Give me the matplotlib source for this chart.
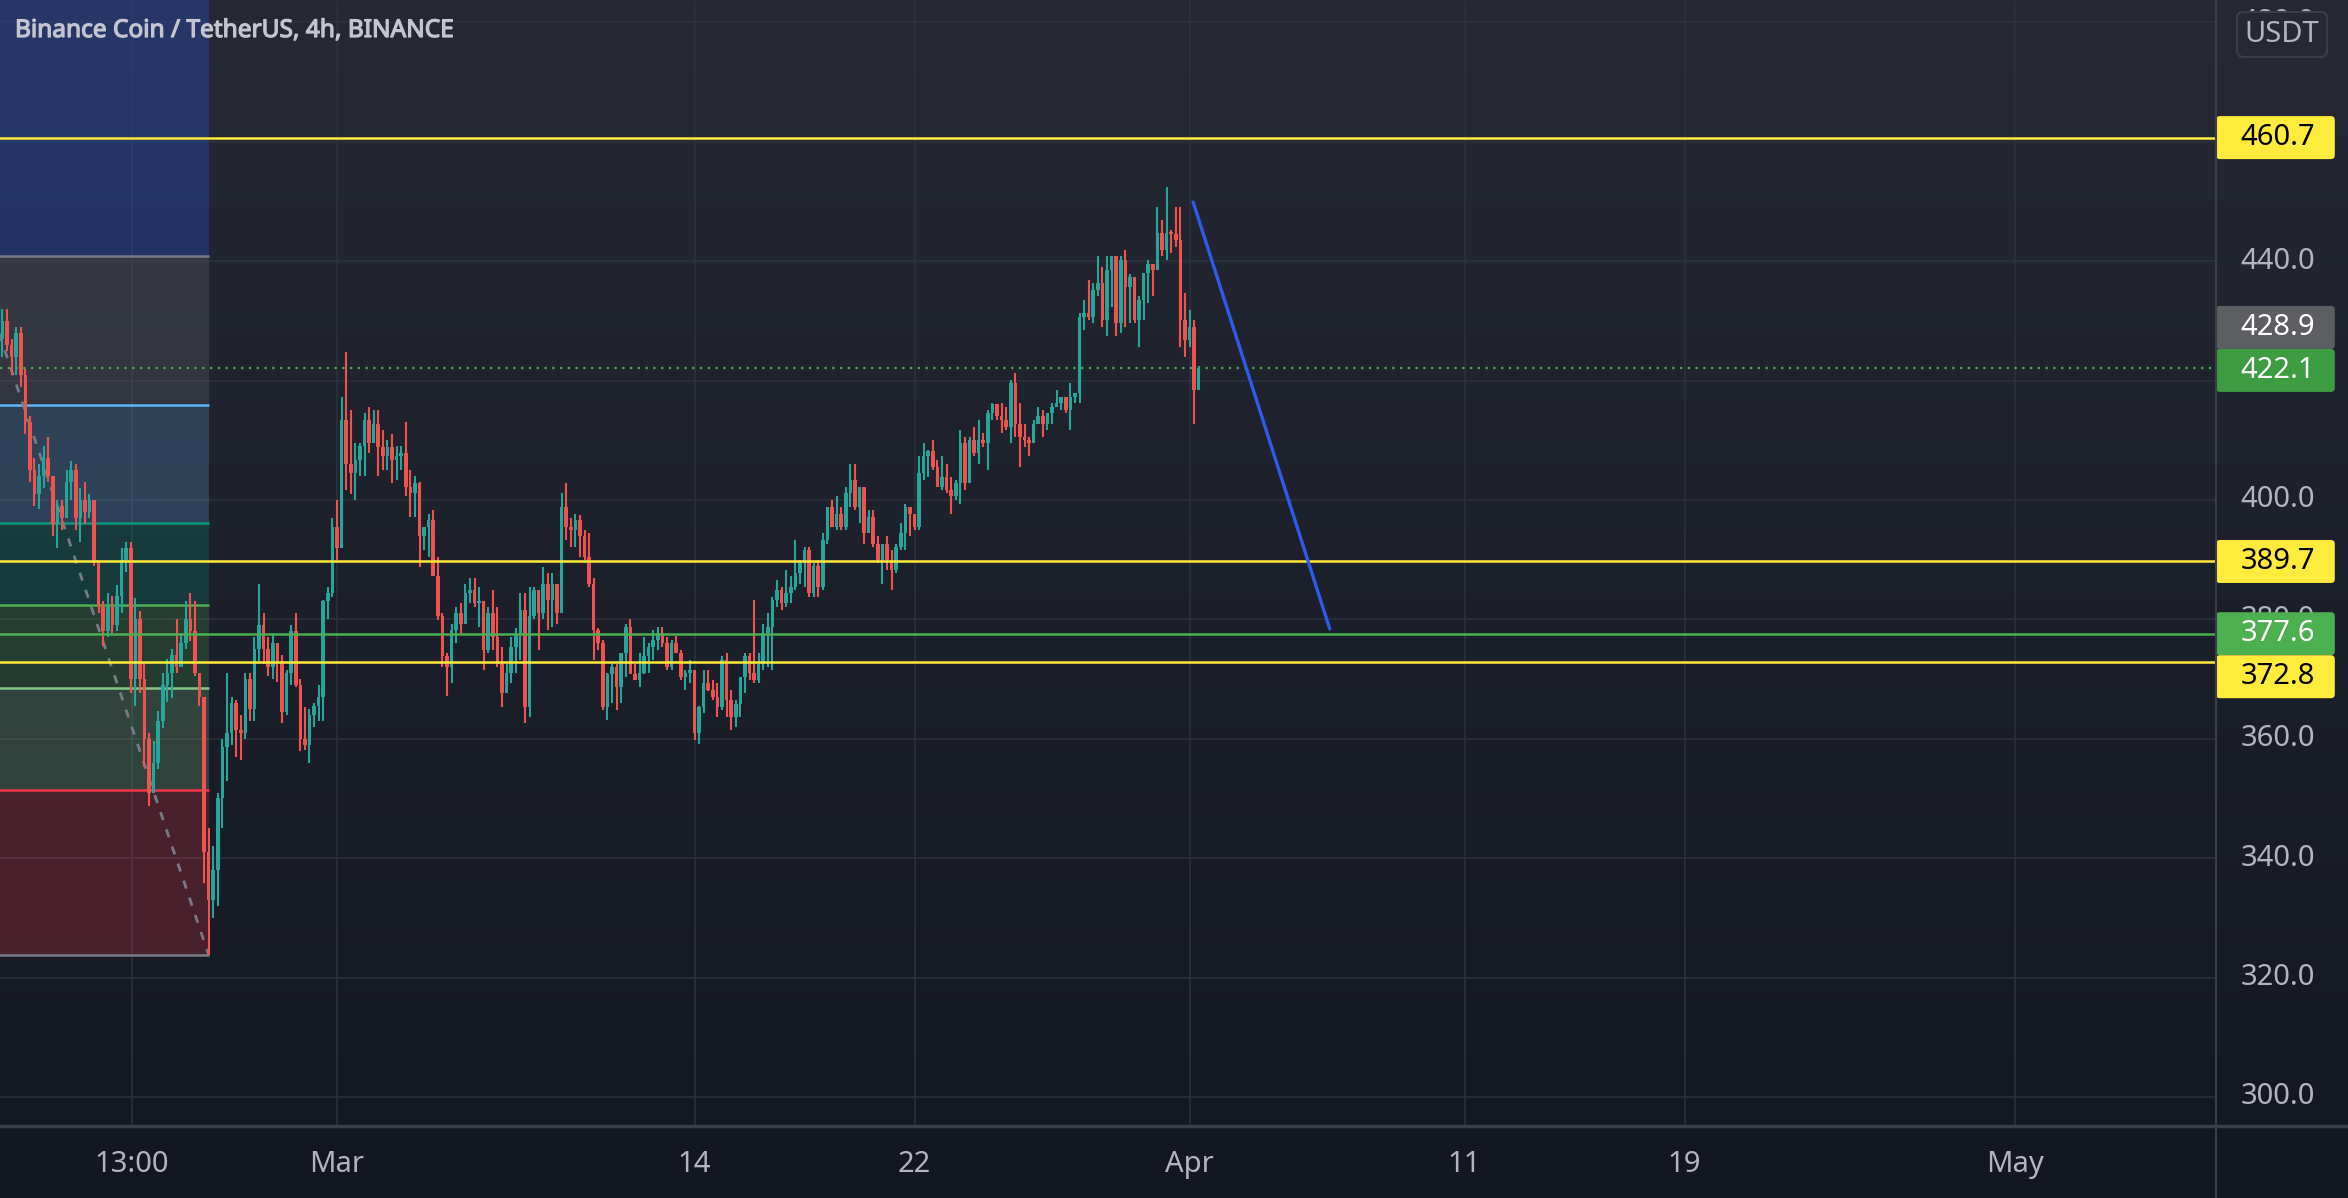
import numpy as np
import pandas as pd
import matplotlib
matplotlib.use("Agg")
import matplotlib.pyplot as plt
import matplotlib.patheffects as pe
from matplotlib.collections import LineCollection
from matplotlib.patches import Rectangle, FancyBboxPatch

# ---------------- data ----------------
first_bar = "2022-02-16 20:00"
n_bars = 262
first_open = 427.0

closes = [
    430, 426, 424, 428, 421, 413, 405, 401, 404, 407,
    404, 396, 399, 397, 403, 405, 397, 400, 398, 400,
    390, 382, 378, 382, 379, 384, 390, 392, 370, 380,
    370, 360, 351, 356, 363, 369, 371, 374, 372, 376,
    380, 378, 371, 367, 341, 333, 338, 350, 358.7, 361,
    366, 361.5, 361, 370, 365, 375, 379, 375, 372, 376,
    373, 364.5, 371, 378, 369, 360, 359, 364, 365.5, 367,
    383, 384.5, 395.5, 392, 413.4, 406, 404.5, 406.7, 409, 413.4,
    409.5, 412.8, 408.9, 407.3, 408.9, 406.7, 407.3, 407.8, 402.2, 401.1,
    402.8, 393.9, 395.5, 396.6, 387.2, 380.5, 373.8, 372.1, 378.2, 381,
    379.3, 384.4, 384.9, 382.7, 383, 374.9, 381, 377.1, 372.6, 367.6,
    371, 375.4, 377.5, 381.6, 365.4, 380.5, 384.9, 381, 386, 383.2,
    386, 381, 398.9, 395.5, 394.9, 396.6, 393.9, 390.5, 386, 378.2,
    376, 365.4, 370.9, 372.1, 368.7, 374.3, 378.8, 370.9, 369.8, 371,
    373.8, 375.4, 376.6, 377.7, 376, 372.1, 376, 374.3, 370.4, 371,
    371.5, 360.9, 365.4, 369.3, 368.2, 367, 365.4, 373.2, 366.5, 363.7,
    365.9, 370.4, 373.8, 371, 369.8, 372.6, 377.7, 378.8, 383.2, 384.9,
    382.7, 384.4, 385.5, 387.7, 389.4, 391.6, 384.4, 389, 385.5, 393.3,
    398.9, 395.5, 397.7, 395.5, 401.1, 403.3, 398.9, 402.2, 394.4, 397.2,
    392.7, 390, 392.7, 390, 388.3, 392.2, 394.4, 398.9, 397.7, 395.5,
    404.5, 407.3, 408.2, 405.6, 402.2, 403.9, 401.7, 400.6, 402.8, 409.5,
    402.8, 410, 407.8, 410, 409.5, 414.5, 416, 414, 413.4, 412.3,
    419.6, 412.8, 410.6, 410, 409.5, 412.8, 414, 412.8, 414.5, 415.6,
    416.2, 417.3, 415, 417.3, 417.9, 430.7, 431.3, 430.7, 435.2, 436.3,
    430.2, 438.5, 440.8, 429.6, 440.2, 435.7, 437.4, 430.2, 433.5, 438,
    439.6, 438.5, 444.7, 441.9, 444.7, 444.6, 443.5, 430.2, 426.8, 429,
    418.4, 422.1,
]

highs = [
    432, 432, 427, 429, 429, 422, 414, 407, 406, 409,
    410.5, 404, 400, 400, 405, 406.5, 406, 402, 403, 401,
    400, 390, 383, 384.5, 384, 385.8, 392, 393, 393, 383.6,
    381.4, 372.7, 361, 359.6, 364.7, 371, 373.4, 375, 380, 377.7,
    383, 384.5, 383, 371, 367, 345, 342, 351, 360, 371,
    367, 366.5, 364, 371, 371, 377, 386, 381, 377, 377.5,
    376, 374, 371.5, 379, 381, 370, 365.4, 365, 366, 369,
    383.3, 385.5, 397, 400, 417.3, 424.8, 415, 409.5, 409.5, 414.5,
    415.6, 415, 415, 411.7, 410, 411, 409, 409, 413, 405,
    404, 403, 395.5, 397.7, 398.3, 390.5, 381, 374.3, 379.3, 382,
    382.7, 386, 387, 387, 385.5, 382.7, 382, 384.9, 382, 375.4,
    372.6, 377, 378.5, 384.4, 384.4, 385.5, 385.5, 384.4, 388.8, 387.7,
    387.7, 384.4, 401.1, 402.8, 397, 397.7, 397.5, 395, 394.4, 387,
    378.5, 376.5, 371, 372.6, 372.6, 374.3, 379.3, 380, 372.6, 374.3,
    377, 376, 378.2, 378.8, 378.8, 377, 376.6, 377.2, 374.9, 371.5,
    373.2, 371.5, 365.5, 371.5, 371.5, 369.8, 369.3, 373.8, 374.3, 368.2,
    366.5, 370.4, 374.3, 374.3, 383.2, 374.3, 379.3, 381, 383.8, 386.6,
    385.5, 388.2, 387.2, 393.3, 390, 392.2, 392.2, 389.5, 390, 394.4,
    398.9, 400, 400.6, 398.9, 402.2, 406.1, 406.1, 402.2, 400.6, 398.3,
    398.3, 393.9, 392.7, 393.9, 391.6, 392.7, 396.1, 399.4, 398.9, 397.7,
    407.3, 409.5, 408.4, 410, 406.7, 407.3, 406.1, 403.9, 403.3, 411.7,
    410.6, 410.6, 412.3, 413.4, 411.2, 415, 416.2, 415.6, 416.2, 415.6,
    420.1, 421.2, 416.2, 412.8, 410.6, 413.4, 415.6, 415, 414.5, 416.2,
    418.4, 417.3, 417.3, 419.6, 417.9, 431.3, 433.5, 436.9, 436.3, 440.8,
    439.1, 440.8, 440.8, 439.1, 440.8, 441.9, 437.9, 437.4, 434.2, 438,
    440.2, 439.6, 449.1, 446.9, 452.5, 445.2, 449.1, 449.1, 434.6, 431.9,
    430.2, 422.4,
]

lows = [
    424, 425, 421, 421, 419, 411, 403, 399, 398.5, 402,
    403, 394, 392, 395, 397, 400, 395, 393, 396, 397,
    389, 381, 375.5, 377, 377.7, 378, 381, 388, 367.7, 365.5,
    367.7, 355.3, 348.7, 352, 355, 361.8, 366.2, 366.8, 371, 372,
    375, 376.4, 370.5, 365.5, 335.8, 323.8, 330, 332, 345, 353,
    359, 357, 356.5, 360, 363, 363, 373, 372.5, 370.5, 370,
    369.5, 362.6, 364, 369, 368.7, 358, 358.1, 355.9, 362, 363,
    363, 380, 383.8, 390, 392.7, 401.7, 401, 400, 404, 404,
    407.8, 409.5, 404, 405, 405, 402.8, 403.4, 405, 400.6, 397.2,
    397.2, 388.8, 391.6, 390.5, 387.2, 379.9, 372.1, 367.1, 369.3, 376,
    377.7, 380.5, 382.7, 382, 378.8, 371.5, 374.3, 374.9, 372.1, 365.4,
    367.6, 369.3, 371, 373.2, 362.6, 363.7, 380, 374.9, 380, 378.2,
    378.8, 379.3, 381, 393.3, 392.2, 392.2, 390.5, 390, 385.5, 373.2,
    374.9, 364.8, 363.1, 366, 364.8, 366, 370.4, 370.9, 369.8, 368.7,
    370.9, 371, 373.2, 374.9, 375.4, 371.5, 371.5, 374.3, 369.8, 368.2,
    369.3, 359.8, 359.2, 364.3, 368, 366.5, 363.7, 364.8, 363.7, 361.5,
    362, 363.7, 367.6, 369.8, 369.3, 369.3, 371.5, 372.1, 371.5, 382.1,
    381.6, 382.1, 382.7, 384.9, 386, 385.5, 383.8, 383.8, 383.8, 384.9,
    392.7, 395.5, 395, 395, 395, 398.9, 398.3, 396.1, 392.7, 394.4,
    392.2, 389.4, 386, 388.3, 384.9, 387.7, 391.6, 391.6, 393.9, 395,
    395, 403.3, 403.9, 405, 402.2, 401.7, 401.1, 397.7, 400, 399.4,
    401.7, 402.8, 407.3, 406.1, 408.9, 405, 413.4, 413.4, 411.2, 411.7,
    409.5, 410.6, 405.6, 408.9, 407.3, 409.5, 412.8, 410.6, 411.7, 412.8,
    415.6, 415, 414.5, 411.7, 416.2, 416.2, 428.5, 430.2, 429.6, 434.1,
    429, 427.4, 432.4, 427.4, 428, 429, 429.6, 429.6, 425.7, 430.2,
    433, 434.1, 438.5, 440.8, 440.2, 441.3, 442.4, 425.7, 424, 425.7,
    412.8, 418.4,
]

# horizontal levels drawn on chart
yellow_levels = [460.7, 389.7, 372.8]
green_level = 377.6
last_price = 422.1
marker_price = 428.9

# fibonacci retracement
fib_low = 323.8
fib_high = 440.9
fib_levels = [0, 0.236, 0.382, 0.5, 0.618, 0.786, 1, 1.618]
fib_start = "2022-02-15 18:15"
fib_end = "2022-02-24 08:00"

# blue projection line
blue_dates = ["2022-04-01 03:10", "2022-04-06 02:25"]
blue_prices = [449.9, 378.4]

# axis labels
price_ticks = [300, 320, 340, 360, 380, 400, 420, 440, 460, 480]
time_tick_dates = ["2022-02-21 13:00", "2022-03-01", "2022-03-14", "2022-03-22",
                   "2022-04-01", "2022-04-11", "2022-04-19", "2022-05-01"]
time_tick_labels = ["13:00", "Mar", "14", "22", "Apr", "11", "19", "May"]
title = "Binance Coin / TetherUS, 4h, BINANCE"

# ---------------- styling ----------------
plt.rcParams["font.family"] = ["Noto Sans", "DejaVu Sans"]
W, H, DPI = 2348, 1198, 100
UP, DOWN = "#26a69a", "#ef5350"
TXT = "#b2b5be"
GRID = "#2c303c"
SEP = "#3a3e4a"
YEL = "#ffeb3b"

origin = pd.Timestamp("2022-03-01")
def days(ts):
    return (pd.to_datetime(ts) - origin) / pd.Timedelta(days=1)

fig = plt.figure(figsize=(W / DPI, H / DPI), dpi=DPI)
fig.patch.set_facecolor("#131722")

bottom_frac = 72 / H
plot_w = 2216 / W

# gradient background
bgax = fig.add_axes([0, bottom_frac, 1, 1 - bottom_frac])
bgax.set_axis_off()
g = np.linspace(0, 1, 256)[:, None, None]
top_c = np.array([38, 41, 51]) / 255
bot_c = np.array([20, 24, 34]) / 255
img = top_c * (1 - g) + bot_c * g
bgax.imshow(img, aspect="auto", extent=[0, 1, 0, 1])
bgax.set_xlim(0, 1)
bgax.set_ylim(0, 1)

ymin, ymax = 295.14, 483.75
xmin, xmax = -12.2545, 68.327

ax = fig.add_axes([0, bottom_frac, plot_w, 1 - bottom_frac])
ax.set_facecolor("none")
ax.set_xlim(xmin, xmax)
ax.set_ylim(ymin, ymax)
for s in ax.spines.values():
    s.set_visible(False)

tick_x = [days(t) for t in time_tick_dates]
ax.set_xticks(tick_x)
ax.set_xticklabels(time_tick_labels)
ax.set_yticks(price_ticks)
ax.tick_params(axis="x", length=0, pad=17, labelcolor=TXT, labelsize=21)
ax.tick_params(axis="y", left=False, labelleft=False)
ax.grid(True, color=GRID, lw=1.2, zorder=0)
ax.set_axisbelow(True)

# ---- candles ----
dates = pd.date_range(first_bar, periods=n_bars, freq="4h")
x = days(dates).to_numpy()
c = np.array(closes, float)
o = np.concatenate([[first_open], c[:-1]])
h = np.maximum(np.array(highs, float), np.maximum(o, c))
l = np.minimum(np.array(lows, float), np.minimum(o, c))
up = c >= o
cols = np.where(up, UP, DOWN)

segs = [[(xi, li), (xi, hi)] for xi, li, hi in zip(x, l, h)]
ax.add_collection(LineCollection(segs, colors=cols, linewidths=1.5, zorder=3))
body_lo = np.minimum(o, c)
body_h = np.maximum(np.abs(c - o), 0.25)
ax.bar(x, body_h, bottom=body_lo, width=0.13, color=cols, linewidth=0, zorder=3.1)

# ---- fibonacci ----
fib_cols = ["#787b86", "#f23645", "#81c784", "#4caf50", "#089981", "#64b5f6", "#787b86", "#2962ff"]
fx0, fx1 = days(fib_start), days(fib_end)
fib_prices = [fib_low + f * (fib_high - fib_low) for f in fib_levels]
for k in range(1, len(fib_prices)):
    ax.add_patch(Rectangle((fx0, fib_prices[k - 1]), fx1 - fx0, fib_prices[k] - fib_prices[k - 1],
                           facecolor=fib_cols[k], alpha=0.22 if k < 7 else 0.26, lw=0, zorder=1))
for p, col in zip(fib_prices, fib_cols):
    ax.plot([fx0, fx1], [p, p], color=col, lw=1.8, zorder=2, solid_capstyle="butt")
ax.plot([fx0, fx1], [fib_high, fib_low], color="#787b86", lw=2, ls=(0, (3, 3.5)), zorder=2.5)

# ---- price lines ----
ax.axhline(last_price, color="#4caf50", lw=1.6, ls=(0, (1, 2.5)), zorder=1.5)
for lv in yellow_levels:
    ax.axhline(lv, color=YEL, lw=1.8, zorder=4)
ax.axhline(green_level, color="#4caf50", lw=1.8, zorder=4)

ax.plot([days(d) for d in blue_dates], blue_prices, color="#2f5be8", lw=2.4,
        zorder=5, solid_capstyle="round")

# ---- separators ----
fig.add_artist(plt.Line2D([plot_w, plot_w], [0, 1], color=SEP, lw=1.5))
fig.add_artist(plt.Line2D([0, 1], [bottom_frac, bottom_frac], color=SEP, lw=2.5))

# ---- right price axis ----
axr = fig.add_axes([plot_w, bottom_frac, 1 - plot_w, 1 - bottom_frac])
axr.set_axis_off()
axr.set_xlim(0, 1)
axr.set_ylim(ymin, ymax)
tx = (2278 - 2216) / 132

box_h = 7.2
labels = [(460.7, YEL, "black"), (marker_price, "#5d5e62", "white"), (last_price, "#3d9b42", "white"),
          (389.7, YEL, "black"), (green_level, "#4caf50", "white"), (372.8, YEL, "black")]
labels.sort(key=lambda t: -t[0])
centers = []
prev = None
for val, fc, tc in labels:
    yc = val if prev is None else min(val, prev - box_h)
    prev = yc
    centers.append(yc)
    axr.add_patch(FancyBboxPatch((0, yc - box_h / 2), 0.9, box_h,
                                 boxstyle="round,pad=0,rounding_size=0.03",
                                 mutation_aspect=22, facecolor=fc, lw=0, zorder=3))
    axr.text(tx, yc, f"{val:.1f}", color=tc, fontsize=21, ha="center", va="center", zorder=4)

# tick labels: those fully hidden behind a price box are not drawn (as on the reference);
# partly hidden ones stay, with the box drawn over them
for p in price_ticks:
    if any(abs(p - yc) < 2.0 for yc in centers):
        continue
    axr.text(tx, p, f"{p:.1f}", color=TXT, fontsize=21, ha="center", va="center", zorder=1)

# USDT box
ux0, ux1 = (2237 - 2216) / 132, (2327 - 2216) / 132
uy1 = ymax - 12 / 5.97
uy0 = ymax - 57 / 5.97
axr.add_patch(FancyBboxPatch((ux0, uy0), ux1 - ux0, uy1 - uy0,
                             boxstyle="round,pad=0,rounding_size=0.05", mutation_aspect=22,
                             facecolor="#262932", edgecolor="#3a3e4a", lw=1.5, zorder=5))
axr.text((ux0 + ux1) / 2, (uy0 + uy1) / 2, "USDT", color=TXT, fontsize=21,
         ha="center", va="center", zorder=6)

# title
fig.text(15 / W, 1 - 31 / H, title, color="#c3c6cf", fontsize=17.6,
         ha="left", va="center",
         path_effects=[pe.withStroke(linewidth=0.9, foreground="#c3c6cf")])

fig.savefig("out.png", dpi=DPI, facecolor=fig.get_facecolor())
